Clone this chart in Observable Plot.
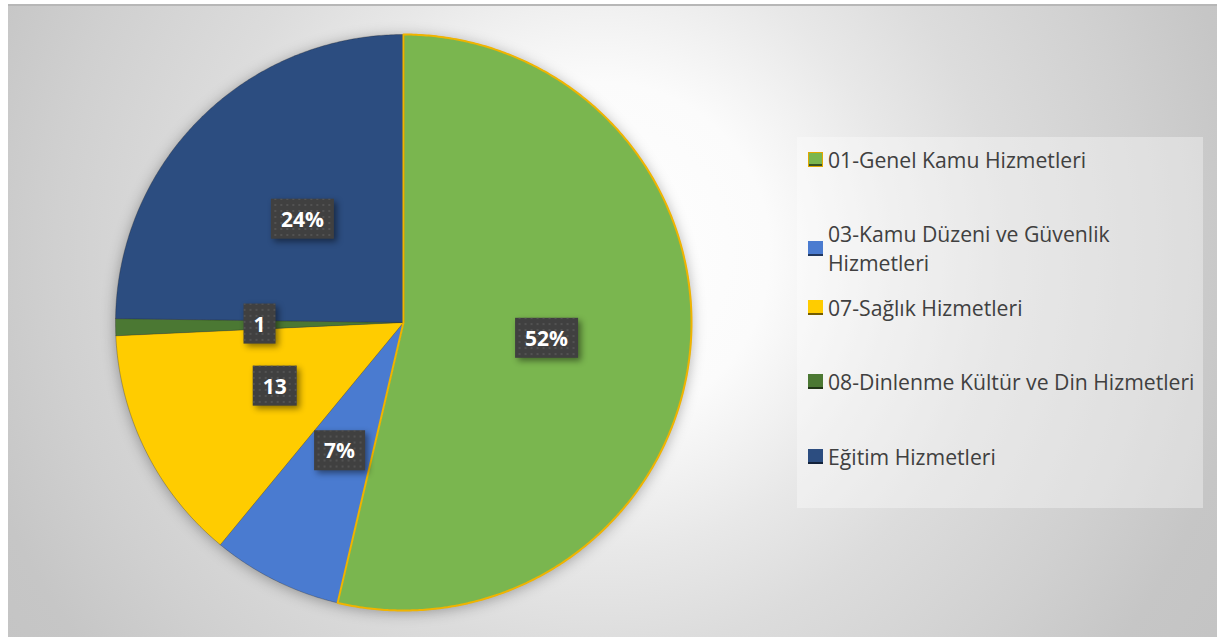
<!DOCTYPE html>
<html><head><meta charset="utf-8">
<script src="https://cdn.jsdelivr.net/npm/d3@7"></script>
<script src="https://cdn.jsdelivr.net/npm/@observablehq/plot@0.6"></script>
<style>
html,body{margin:0;padding:0;background:#fff;}
#wrap{position:relative;width:1217px;height:637px;overflow:hidden;font-family:"Open Sans",sans-serif;}
#frame{position:absolute;left:8px;top:4px;width:1209px;height:633px;box-sizing:border-box;border-top:2px solid #b7b7b7;
 background:radial-gradient(circle 760px at 592px 246px,#ffffff 0px,#fbfbfb 170px,#e8e8e8 300px,#dcdcdc 400px,#d0d0d0 545px,#c6c6c6 650px,#c3c3c3 760px);}
#chart{position:absolute;left:0;top:0;}
#legend{position:absolute;left:797px;top:137px;width:406px;height:371px;background:rgba(255,255,255,0.35);}
.item{position:absolute;left:11px;display:flex;align-items:center;}
.mk{width:15px;height:15px;box-sizing:border-box;margin-right:5px;flex:none;box-shadow:inset 0 -2px 0 rgba(0,0,0,0.55);}
.tx{font-size:21.2px;line-height:29px;color:#404040;width:372px;}
</style></head>
<body>
<div id="wrap"><div id="frame"></div><div id="chart"></div><div id="legend"></div></div>
<script>
const categories = ["01-Genel Kamu Hizmetleri","03-Kamu Düzeni ve Güvenlik Hizmetleri","07-Sağlık Hizmetleri","08-Dinlenme Kültür ve Din Hizmetleri","Eğitim Hizmetleri"];
const shares = [53.7, 7.3, 13.3, 0.95, 24.8];
const labels = ["52%", "7%", "13", "1", "24%"];
const colors = ["#7ab64f", "#4a7bd0", "#ffcc00", "#4b7833", "#2c4d80"];

const arcs = d3.pie().sort(null).value(d => d)(shares);
const poly = [];
const labelData = [];
arcs.forEach((a, i) => {
  const cat = categories[i];
  poly.push({cat, x: 0, y: 0});
  const n = Math.max(2, Math.ceil((a.endAngle - a.startAngle) / (Math.PI / 360)));
  for (let k = 0; k <= n; k++) {
    const t = a.startAngle + (a.endAngle - a.startAngle) * k / n;
    poly.push({cat, x: Math.sin(t), y: Math.cos(t)});
  }
  const m = (a.startAngle + a.endAngle) / 2;
  labelData.push({cat, label: labels[i], x: 0.5 * Math.sin(m), y: 0.5 * Math.cos(m)});
});

const plot = Plot.plot({
  width: 1217, height: 637, margin: 0,
  x: {domain: [-1, 1], range: [115, 691], axis: null},
  y: {domain: [-1, 1], range: [610, 34], axis: null},
  color: {domain: categories, range: colors},
  style: {background: "transparent", overflow: "visible"},
  marks: [
    Plot.line(poly, {x: "x", y: "y", z: "cat", fill: "cat", stroke: "#1a1a1a", strokeOpacity: 0.35, strokeWidth: 0.8, curve: "linear-closed"}),
    Plot.line(poly.filter(d => d.cat === categories[0]), {x: "x", y: "y", stroke: "#f0b400", strokeWidth: 2, curve: "linear-closed"}),
    Plot.text(labelData, {x: "x", y: "y", text: "label", fill: "white", fontWeight: "bold", fontSize: 21, fontFamily: "Open Sans"})
  ]
});
document.getElementById("chart").appendChild(plot);

// pie shadow
const lineGroups = plot.querySelectorAll('g[aria-label="line"]');
if (lineGroups[0]) lineGroups[0].style.filter = "drop-shadow(0px 2px 7px rgba(0,0,0,0.32))";

// label boxes with dotted pattern
const ns = "http://www.w3.org/2000/svg";
const defs = document.createElementNS(ns, "defs");
defs.innerHTML = '<pattern id="dots" width="6" height="6" patternUnits="userSpaceOnUse"><circle cx="3" cy="3" r="0.9" fill="#5a5a5a"/></pattern>';
plot.insertBefore(defs, plot.firstChild);
const tg = plot.querySelector('g[aria-label="text"]');
if (tg) {
  tg.querySelectorAll("text").forEach(t => {
    const b = t.getBBox();
    const cy = b.y + b.height / 2;
    const tr = t.getAttribute("transform");
    const mk = (fill, shadow) => {
      const r = document.createElementNS(ns, "rect");
      r.setAttribute("x", b.x - 10);
      r.setAttribute("y", cy - 20);
      r.setAttribute("width", b.width + 20);
      r.setAttribute("height", 40);
      r.setAttribute("fill", fill);
      r.setAttribute("stroke", "none");
      if (tr) r.setAttribute("transform", tr);
      if (shadow) r.style.filter = "drop-shadow(3px 3px 3px rgba(0,0,0,0.45))";
      tg.insertBefore(r, t);
    };
    mk("#404040", true);
    mk("url(#dots)", false);
  });
}

// legend
const legend = document.getElementById("legend");
const itemTops = [8, 82, 156, 230, 305];
categories.forEach((c, i) => {
  const it = document.createElement("div");
  it.className = "item";
  it.style.top = itemTops[i] + "px";
  const m = document.createElement("div");
  m.className = "mk";
  m.style.background = colors[i];
  if (i === 0) { m.style.border = "1.5px solid #e0a800"; }
  const tx = document.createElement("div");
  tx.className = "tx";
  tx.textContent = c;
  it.appendChild(m); it.appendChild(tx);
  legend.appendChild(it);
});
</script>
</body></html>
